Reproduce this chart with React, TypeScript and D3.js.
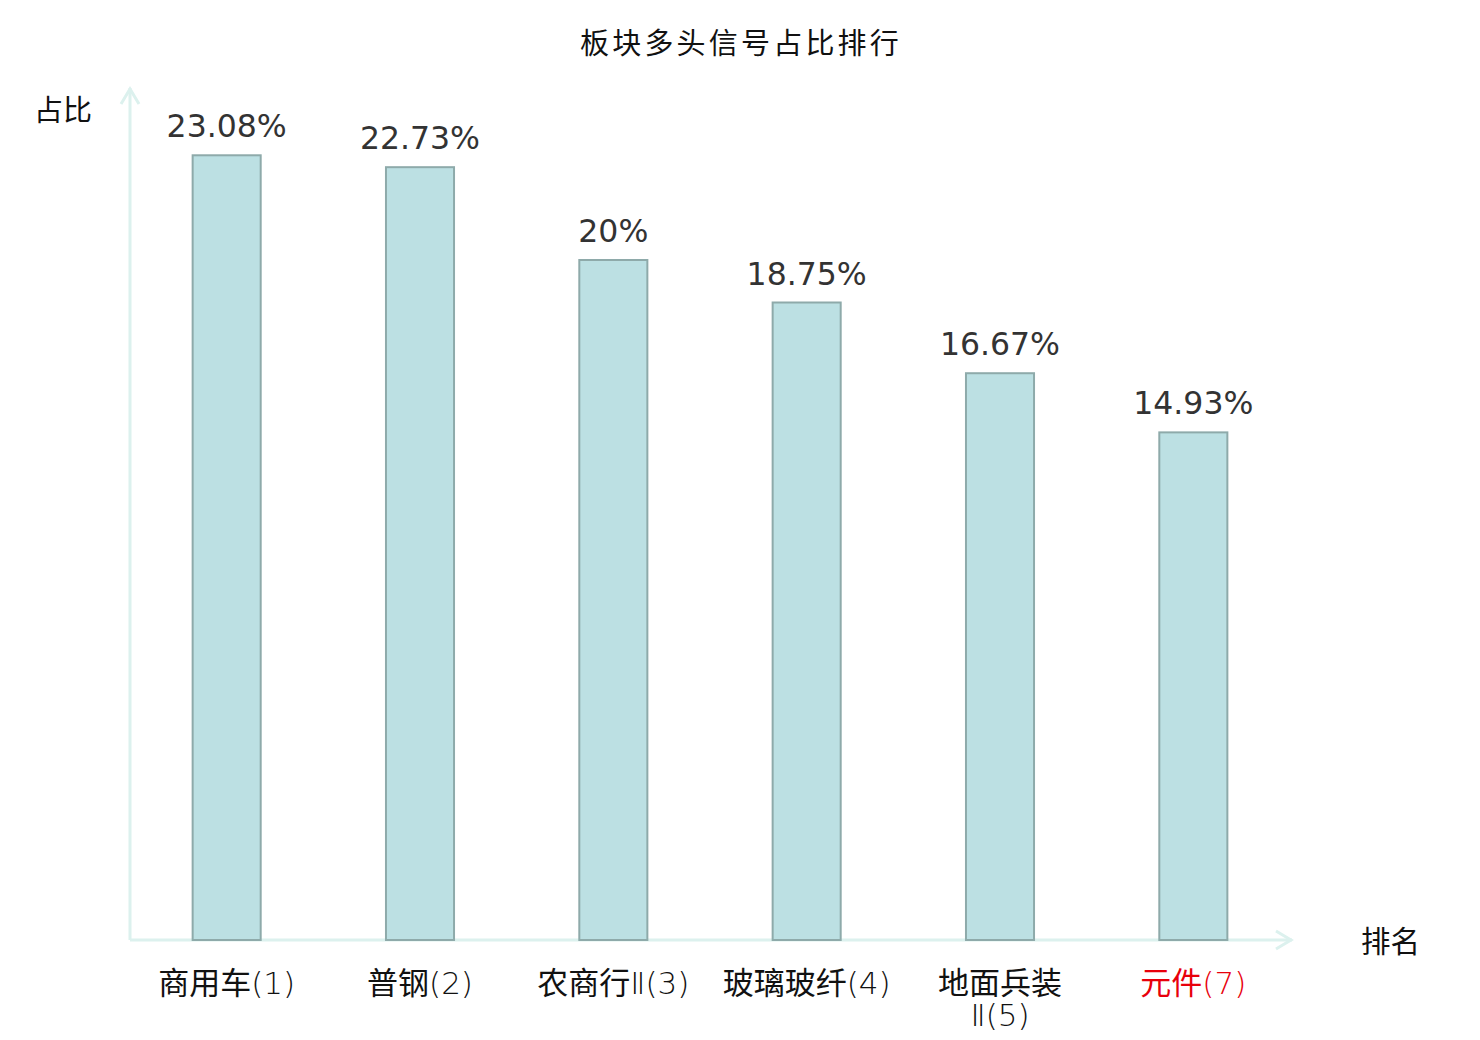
import { useEffect, useRef } from "react";
import * as d3 from "d3";

const title = "板块多头信号占比排行";
const categories = ["商用车(1)", "普钢(2)", "农商行Ⅱ(3)", "玻璃玻纤(4)", "地面兵装\nⅡ(5)", "元件(7)"];
const values = [23.08, 22.73, 20, 18.75, 16.67, 14.93];
const labels = ["23.08%", "22.73%", "20%", "18.75%", "16.67%", "14.93%"];
const highlighted = ["元件(7)"];
const yName = "占比";
const xName = "排名";

const FONT = "'DejaVu Sans', 'Noto Sans CJK SC', sans-serif";
const AXIS = "#dcf1ee";

// split a line into CJK / non-CJK runs (the latin parts are drawn light)
const runs = (s: string) => s.match(/[\u4e00-\u9fff]+|[^\u4e00-\u9fff]+/g) || [];

const App = () => {
  const svgRef = useRef<SVGSVGElement | null>(null);

  useEffect(() => {
    d3.select(svgRef.current).selectAll("*").remove();

    const width = 1480;
    const height = 1040;
    const margin = { top: 90, right: 190, bottom: 100, left: 130 };
    const innerW = width - margin.left - margin.right;
    const innerH = height - margin.top - margin.bottom;

    const svg = d3
      .select(svgRef.current)
      .attr("width", width)
      .attr("height", height)
      .style("font-family", FONT);

    svg.append("rect").attr("width", width).attr("height", height).attr("fill", "#fff");

    svg
      .append("text")
      .attr("x", width / 2 + 1)
      .attr("y", 54)
      .attr("text-anchor", "middle")
      .attr("font-size", 29)
      .attr("letter-spacing", 3.2)
      .attr("fill", "#111")
      .text(title);

    const g = svg.append("g").attr("transform", `translate(${margin.left},${margin.top})`);

    const x = d3.scaleBand().domain(categories).range([0, innerW]).padding(0);
    const y = d3.scaleLinear().domain([0, 25]).range([innerH, 0]);
    const barW = x.bandwidth() * 0.352;

    // axes with open arrow heads
    g.append("line")
      .attr("x1", 0).attr("x2", 0)
      .attr("y1", innerH).attr("y2", y(25) - 2)
      .attr("stroke", AXIS).attr("stroke-width", 3);
    g.append("path")
      .attr("d", `M-9,${y(25) + 14}L0,${y(25) - 1}L9,${y(25) + 14}`)
      .attr("fill", "none").attr("stroke", AXIS).attr("stroke-width", 3);

    g.append("line")
      .attr("x1", 0).attr("x2", innerW + 2)
      .attr("y1", innerH).attr("y2", innerH)
      .attr("stroke", AXIS).attr("stroke-width", 3);
    g.append("path")
      .attr("d", `M${innerW - 14},${innerH - 9}L${innerW + 1},${innerH}L${innerW - 14},${innerH + 9}`)
      .attr("fill", "none").attr("stroke", AXIS).attr("stroke-width", 3);

    svg
      .append("text")
      .attr("x", 34)
      .attr("y", 121)
      .attr("font-size", 29)
      .attr("fill", "#111")
      .text(yName);

    svg
      .append("text")
      .attr("x", 1361)
      .attr("y", 952)
      .attr("font-size", 29.5)
      .attr("fill", "#111")
      .text(xName);

    const data = categories.map((c, i) => ({ c, v: values[i], label: labels[i] }));

    g.selectAll(".bar")
      .data(data)
      .enter()
      .append("rect")
      .attr("class", "bar")
      .attr("x", (d) => (x(d.c) || 0) + x.bandwidth() / 2 - barW / 2)
      .attr("y", (d) => y(d.v))
      .attr("width", barW)
      .attr("height", (d) => innerH - y(d.v))
      .attr("fill", "#bce0e3")
      .attr("stroke", "#8eaaaa")
      .attr("stroke-width", 2);

    g.selectAll(".val")
      .data(data)
      .enter()
      .append("text")
      .attr("class", "val")
      .attr("x", (d) => (x(d.c) || 0) + x.bandwidth() / 2)
      .attr("y", (d) => y(d.v) - 18)
      .attr("text-anchor", "middle")
      .attr("font-size", 31.5)
      .attr("fill", "#333")
      .text((d) => d.label);

    // one text per category, one tspan per line
    const lines = g
      .selectAll(".cat")
      .data(data)
      .enter()
      .append("text")
      .attr("class", "cat")
      .attr("text-anchor", "middle")
      .attr("font-size", 31)
      .attr("fill", (d) => (highlighted.includes(d.c) ? "#e8000b" : "#111"))
      .selectAll("tspan.line")
      .data((d) => d.c.split("\n").map((line) => ({ line, cx: (x(d.c) || 0) + x.bandwidth() / 2 })))
      .enter()
      .append("tspan")
      .attr("class", "line")
      .attr("x", (d) => d.cx)
      .attr("y", (_d, i) => innerH + 54 + i * 32);

    lines
      .selectAll("tspan")
      .data((d) => runs(d.line))
      .enter()
      .append("tspan")
      .attr("font-weight", (r) => (/[\u4e00-\u9fff]/.test(r) ? 400 : 200))
      .text((r) => r);
  }, []);

  return (
    <div>
      <svg ref={svgRef} style={{ display: "block", position: "absolute", left: 0, top: 0 }} />
    </div>
  );
};

export default App;
